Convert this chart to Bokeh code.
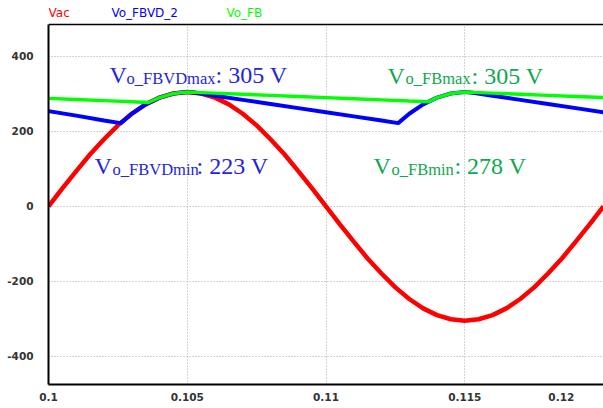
from bokeh.plotting import figure
from bokeh.models import Range1d, FixedTicker, Label
from bokeh.embed import file_html
from bokeh.resources import INLINE

# ---- data ----
t_ac = [0.1 + 0.0005 * k for k in range(41)]
v_ac = [0, 48, 94, 139, 179, 216, 247, 272, 290, 301, 305, 301, 290, 272, 247, 216, 179, 139, 94, 48,
        0, -48, -94, -139, -179, -216, -247, -272, -290, -301, -305, -301, -290, -272, -247, -216, -179, -139, -94, -48, 0]

t_fbvd = [0.1, 0.101, 0.102, 0.1026, 0.103, 0.1035, 0.104, 0.1045, 0.105, 0.1053, 0.106, 0.107, 0.108,
          0.109, 0.11, 0.111, 0.112, 0.1126, 0.113, 0.1135, 0.114, 0.1145, 0.115, 0.1153, 0.116, 0.117,
          0.118, 0.119, 0.12]
v_fbvd = [254, 242, 229, 222, 247, 272, 290, 301, 305, 303, 295, 284, 273, 262, 251, 240, 229, 222,
          247, 272, 290, 301, 305, 303, 295, 284, 273, 262, 251]

t_fb = [0.1, 0.101, 0.102, 0.103, 0.1036, 0.104, 0.1045, 0.105, 0.1053, 0.106, 0.107, 0.108, 0.109,
        0.11, 0.111, 0.112, 0.113, 0.1137, 0.114, 0.1145, 0.115, 0.1153, 0.116, 0.117, 0.118, 0.119, 0.12]
v_fb = [288, 285, 282, 279, 277, 290, 301, 305, 304, 302, 299, 296, 293, 290, 287, 284, 281, 279,
        290, 301, 305, 304, 302, 299, 296, 293, 290]

x_ticks = [0.1, 0.105, 0.11, 0.115, 0.12]
x_tick_labels = ["0.1", "0.105", "0.11", "0.115", "0.12"]
y_ticks = [-400, -200, 0, 200, 400]
y_tick_labels = ["-400", "-200", "0", "200", "400"]

series_names = ["Vac", "Vo_FBVD_2", "Vo_FB"]
series_colors = ["#FF0000", "#0000FF", "#00FF00"]

# annotation pieces: (x, y, [(text, offset_px, big?)], color)
ann_blue = "#2424E0"
ann_green = "#0EA84E"
annotations = [
    (0.1022, 350, [("V", 0, True), ("o_FBVDmax", 17, False), (": 305 V", 106, True)], ann_blue),
    (0.10166, 107, [("V", 0, True), ("o_FBVDmin", 18, False), (": 223 V", 102, True)], ann_blue),
    (0.11222, 348, [("V", 0, True), ("o_FBmax", 18, False), (": 305 V", 84, True)], ann_green),
    (0.11171, 107, [("V", 0, True), ("o_FBmin", 18, False), (": 278 V", 81, True)], ann_green),
]

X_MIN, X_MAX = 0.1, 0.12
Y_MIN, Y_MAX = -475, 485      # plotting box of the chart
Y_TOP = 549                   # room above the box for the series names
LEGEND_Y = 517

p = figure(width=603, height=408, x_range=Range1d(X_MIN, X_MAX), y_range=Range1d(Y_MIN, Y_TOP),
           output_backend="svg", toolbar_location=None,
           min_border_left=48, min_border_right=0, min_border_top=0, min_border_bottom=24)
p.background_fill_color = "white"
p.border_fill_color = "white"
p.outline_line_color = None

for ax in (p.xaxis[0], p.yaxis[0]):
    ax.axis_line_color = "black"
    ax.axis_line_width = 2
    ax.major_tick_line_color = None
    ax.minor_tick_line_color = None
    ax.major_tick_out = 0
    ax.major_tick_in = 0
    ax.major_label_text_font = "DejaVu Sans"
    ax.major_label_text_font_style = "bold"
    ax.major_label_text_font_size = "10.5px"
    ax.major_label_text_color = "#333333"

NB = "\u00a0"
x_label_text = list(x_tick_labels)
x_label_text[-1] = x_tick_labels[-1] + NB * 8
p.xaxis.ticker = FixedTicker(ticks=x_ticks)
p.xaxis.major_label_overrides = {t: l for t, l in zip(x_ticks, x_label_text)}
p.xaxis.major_label_standoff = 6
p.yaxis.ticker = FixedTicker(ticks=y_ticks)
p.yaxis.major_label_overrides = {t: l for t, l in zip(y_ticks, y_tick_labels)}
p.yaxis.major_label_standoff = 15
p.yaxis.bounds = (Y_MIN, Y_MAX)

for g in (p.xgrid[0], p.ygrid[0]):
    g.grid_line_color = "#A8A8A8"
    g.grid_line_dash = "1 2"
    g.grid_line_width = 1

# blank strip above the plotting box, and its top border
p.quad(left=[X_MIN], right=[X_MAX], bottom=[Y_MAX], top=[Y_TOP], fill_color="white",
       line_color=None)
p.line([X_MIN, X_MAX], [Y_MAX, Y_MAX], line_color="black", line_width=1.5)

p.line(t_ac, v_ac, line_color=series_colors[0], line_width=4.5)
p.line(t_fbvd, v_fbvd, line_color=series_colors[1], line_width=4)
p.line(t_fb, v_fb, line_color=series_colors[2], line_width=3.5)

legend_x = [0.1, 0.10227, 0.10641]
for name, col, lx in zip(series_names, series_colors, legend_x):
    p.add_layout(Label(x=lx, y=LEGEND_Y, text=name, text_color=col, text_font="DejaVu Sans",
                       text_font_size="12px", text_baseline="middle", text_align="left"))

for x, y, parts, col in annotations:
    for txt, off, big in parts:
        p.add_layout(Label(x=x, y=y, x_offset=off, y_offset=0 if big else -3, text=txt,
                           text_color=col, text_font="Liberation Serif",
                           text_font_size="24px" if big else "16.5px",
                           text_baseline="alphabetic", text_align="left"))

open("out.html", "w").write(file_html(p, INLINE))
